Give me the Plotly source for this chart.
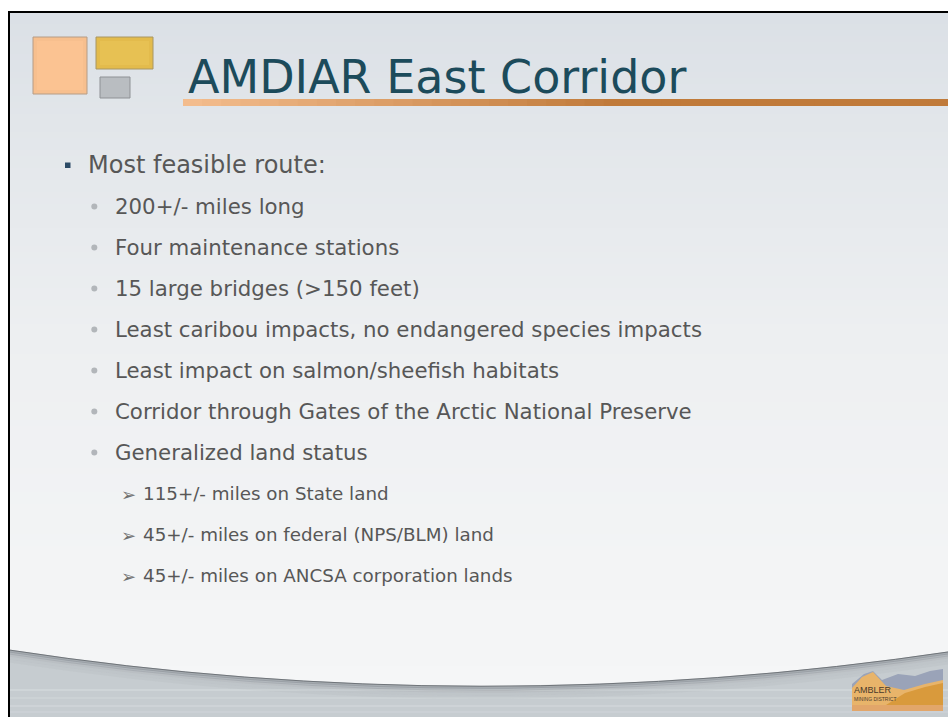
import plotly.graph_objects as go

# ---------------- content ----------------
TITLE = "AMDIAR East Corridor"
BULLET_TEXTS = [
    "Most feasible route:",
    "200+/- miles long",
    "Four maintenance stations",
    "15 large bridges (>150 feet)",
    "Least caribou impacts, no endangered species impacts",
    "Least impact on salmon/sheefish habitats",
    "Corridor through Gates of the Arctic National Preserve",
    "Generalized land status",
    "115+/- miles on State land",
    "45+/- miles on federal (NPS/BLM) land",
    "45+/- miles on ANCSA corporation lands",
]
BULLET_LEVELS = [1, 2, 2, 2, 2, 2, 2, 2, 3, 3, 3]
LOGO_TEXT = ["AMBLER", "MINING DISTRICT"]

# ---------------- helpers ----------------
W, H = 948, 717


def hex2rgb(h):
    h = h.lstrip("#")
    return tuple(int(h[i:i + 2], 16) for i in (0, 2, 4))


def mix(c1, c2, t):
    a, b = hex2rgb(c1), hex2rgb(c2)
    return "rgb(%d,%d,%d)" % tuple(round(a[i] + (b[i] - a[i]) * t) for i in range(3))


shapes = []
annotations = []

# slide background (page is white, slide has a black frame)
SL, ST, SR, SB = 9, 12, 955, 725
stops = [(ST, "#dbe0e6"), (120, "#e2e6ea"), (330, "#edeff1"), (560, "#f3f4f5"), (700, "#f5f6f7")]
y = ST
step = 6
while y < 700:
    for k in range(len(stops) - 1):
        if stops[k][0] <= y < stops[k + 1][0]:
            t = (y - stops[k][0]) / (stops[k + 1][0] - stops[k][0])
            col = mix(stops[k][1], stops[k + 1][1], t)
            break
    shapes.append(dict(type="rect", xref="x", yref="y", x0=SL, x1=SR, y0=y, y1=y + step + 1,
                       fillcolor=col, line=dict(width=0), layer="below"))
    y += step

# bottom gray area under the curved sheet edge
CX, CY = 480, 722
shapes.append(dict(type="path", xref="x", yref="y",
                   path=f"M {SL},650 Q {CX},{CY} {SR},651 L {SR},{SB} L {SL},{SB} Z",
                   fillcolor="#c6ccd0", line=dict(width=0), layer="below"))
for yy, a in [(690, 0.25), (698, 0.18), (706, 0.22), (712, 0.15)]:
    shapes.append(dict(type="line", xref="x", yref="y", x0=SL, x1=SR, y0=yy, y1=yy,
                       line=dict(color="rgba(235,238,240,%.2f)" % a, width=2), layer="below"))
for d, a in [(1, 0.35), (3, 0.22), (5, 0.14), (8, 0.08), (11, 0.05)]:
    shapes.append(dict(type="path", xref="x", yref="y",
                       path=f"M {SL},{650 + d} Q {CX},{CY + d} {SR},{651 + d}",
                       line=dict(color="rgba(110,116,122,%.2f)" % a, width=3), layer="below"))
shapes.append(dict(type="path", xref="x", yref="y",
                   path=f"M {SL},650 Q {CX},{CY} {SR},651",
                   line=dict(color="#6f7479", width=1), layer="below"))

# slide frame
shapes.append(dict(type="rect", xref="x", yref="y", x0=SL, x1=SR, y0=ST, y1=SB,
                   line=dict(color="#000000", width=2), fillcolor="rgba(0,0,0,0)"))

# decorative squares (top-left)
shapes += [
    dict(type="rect", xref="x", yref="y", x0=33, x1=87, y0=37, y1=94,
         fillcolor="#f7bf8e", line=dict(color="#b59c86", width=1)),
    dict(type="rect", xref="x", yref="y", x0=37, x1=83, y0=41, y1=90,
         fillcolor="rgba(255,200,150,0.5)", line=dict(width=0)),
    dict(type="rect", xref="x", yref="y", x0=96, x1=153, y0=37, y1=69,
         fillcolor="#e3bb4c", line=dict(color="#a89663", width=1)),
    dict(type="rect", xref="x", yref="y", x0=100, x1=149, y0=41, y1=65,
         fillcolor="rgba(236,200,90,0.5)", line=dict(width=0)),
    dict(type="rect", xref="x", yref="y", x0=100, x1=130, y0=77, y1=98,
         fillcolor="#b9bdc1", line=dict(color="#8e9195", width=1)),
]

# title underline with gradient
ux0, ux1 = 183, W
n = 40
for i in range(n):
    xa = ux0 + (ux1 - ux0) * i / n
    xb = ux0 + (ux1 - ux0) * (i + 1) / n + 1
    shapes.append(dict(type="rect", xref="x", yref="y", x0=xa, x1=xb, y0=99, y1=106,
                       fillcolor=mix("#f3bc8d", "#c07a3a", min(1, i / (n * 0.55))),
                       line=dict(width=0)))

# title
annotations.append(dict(x=186, y=77, xref="x", yref="y", text=TITLE, showarrow=False,
                        xanchor="left", yanchor="middle",
                        font=dict(family="DejaVu Sans", size=46, color="#1c4b5b")))

# bullets
LEVEL_TX = {1: 86, 2: 113, 3: 141}
LEVEL_SIZE = {1: 24, 2: 21.3, 3: 18.3}
for i, (txt, lvl) in enumerate(zip(BULLET_TEXTS, BULLET_LEVELS)):
    yy = 165 + 41 * i
    if lvl == 1:
        shapes.append(dict(type="rect", xref="x", yref="y", x0=65, x1=70.5, y0=yy - 2.5, y1=yy + 3,
                           fillcolor="#2c4b66", line=dict(width=0)))
    elif lvl == 2:
        shapes.append(dict(type="circle", xref="x", yref="y", x0=91.3, x1=97.3, y0=yy - 2.5, y1=yy + 3.5,
                           fillcolor="#b2b6ba", line=dict(width=0)))
    else:
        annotations.append(dict(x=119, y=yy + 1, xref="x", yref="y", text="➢",
                                showarrow=False, xanchor="left", yanchor="middle",
                                font=dict(family="DejaVu Sans", size=18, color="#707070")))
    annotations.append(dict(x=LEVEL_TX[lvl], y=yy, xref="x", yref="y", text=txt,
                            showarrow=False, xanchor="left", yanchor="middle",
                            font=dict(family="DejaVu Sans", size=LEVEL_SIZE[lvl], color="#575757")))

# small district logo (bottom right)
shapes += [
    dict(type="path", xref="x", yref="y",
         path="M 852,705 L 852,684 L 864,674 L 873,671 L 882,680 L 898,674 L 915,676 L 930,671 L 943,669 L 943,705 Z",
         fillcolor="#9aa3b8", line=dict(width=0)),
    dict(type="path", xref="x", yref="y",
         path="M 852,705 L 852,688 L 862,677 L 873,672 L 886,686 L 904,690 L 925,684 L 943,680 L 943,705 Z",
         fillcolor="#e8b46a", line=dict(width=0)),
    dict(type="path", xref="x", yref="y",
         path="M 886,705 L 905,693 L 925,687 L 943,683 L 943,705 Z",
         fillcolor="#d99a3c", line=dict(width=0)),
    dict(type="rect", xref="x", yref="y", x0=852, x1=943, y0=705, y1=711,
         fillcolor="#e2a66a", line=dict(width=0)),
]
annotations.append(dict(x=852, y=690, xref="x", yref="y", text=LOGO_TEXT[0], showarrow=False,
                        xanchor="left", yanchor="middle",
                        font=dict(family="Liberation Sans Narrow, Liberation Sans", size=9, color="#4a3a2a")))
annotations.append(dict(x=852, y=699, xref="x", yref="y", text=LOGO_TEXT[1], showarrow=False,
                        xanchor="left", yanchor="middle",
                        font=dict(family="Liberation Sans", size=5, color="#4a3a2a")))

fig = go.Figure()
fig.add_trace(go.Scatter(x=[0, W], y=[0, H], mode="markers", marker=dict(opacity=0),
                         hoverinfo="skip", showlegend=False))
fig.update_layout(
    width=W, height=H,
    margin=dict(l=0, r=0, t=0, b=0),
    paper_bgcolor="#ffffff", plot_bgcolor="#ffffff",
    xaxis=dict(range=[0, W], visible=False, fixedrange=True),
    yaxis=dict(range=[H, 0], visible=False, fixedrange=True),
    shapes=shapes, annotations=annotations, showlegend=False,
)
fig.write_html("out.html", config={"displayModeBar": False},
               post_script="document.body.style.margin='0';document.body.style.overflow='hidden';")
